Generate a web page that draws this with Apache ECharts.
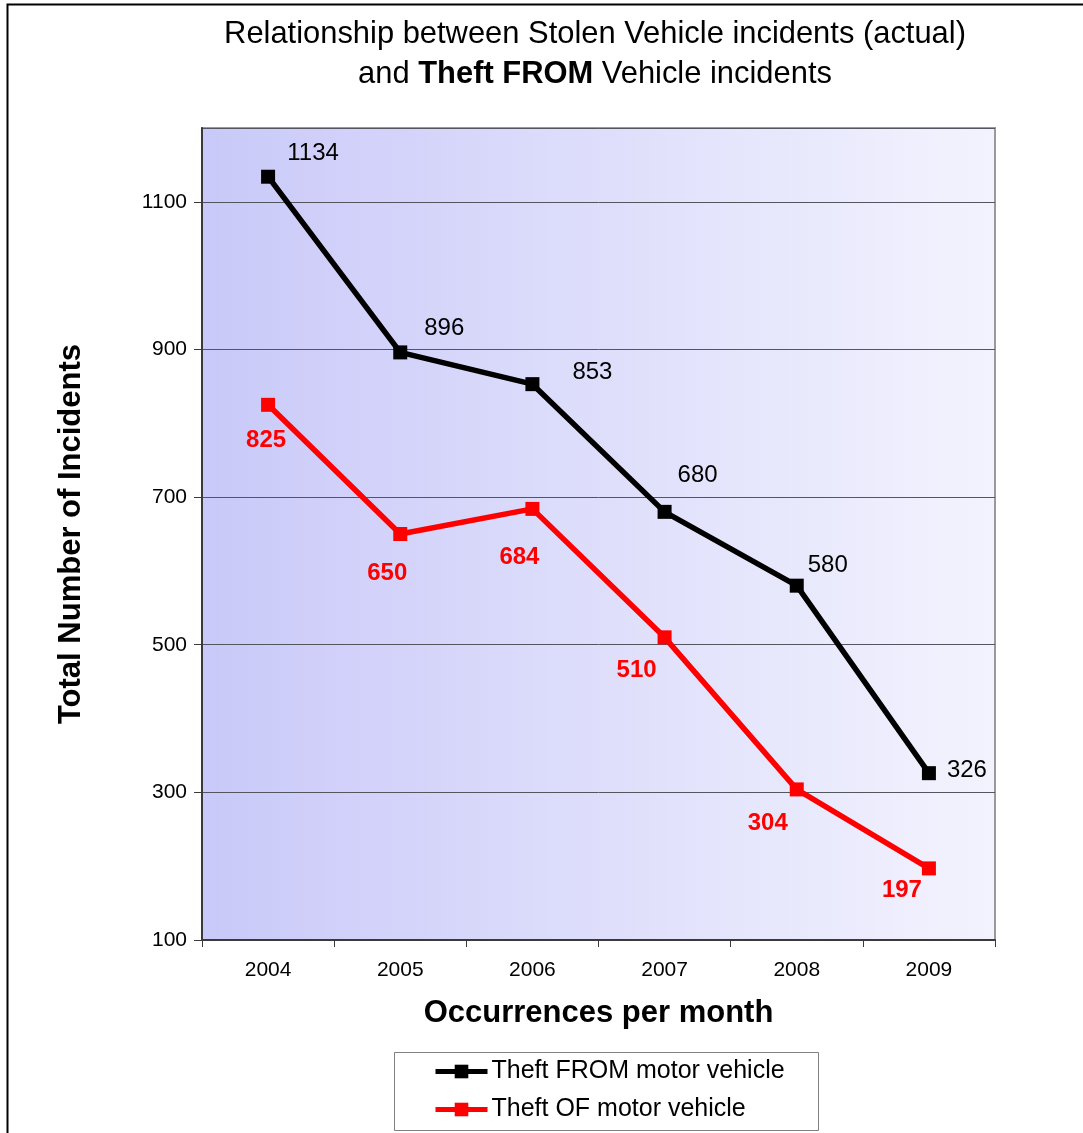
<!DOCTYPE html>
<html>
<head>
<meta charset="utf-8">
<script src="https://cdn.jsdelivr.net/npm/echarts@6/dist/echarts.min.js"></script>
<style>
  html, body { margin: 0; padding: 0; background: #ffffff; }
  #chart { width: 1083px; height: 1133px; }
</style>
</head>
<body>
<div id="chart"></div>
<script>
// Yearly incident counts
const years = ['2004', '2005', '2006', '2007', '2008', '2009'];
const theftFrom = [1134, 896, 853, 680, 580, 326];
const theftOf = [825, 650, 684, 510, 304, 197];

// Where each value label sits relative to its marker (pixels)
const theftFromLabelOffsets = [[45, -23], [44, -24], [60, -12], [33, -36], [31, -20], [38, -3]];
const theftOfLabelOffsets = [[-2, 36], [-13, 39], [-13, 48], [-28, 33], [-29, 34], [-27, 22]];

const FONT = '"Liberation Sans", Arial, sans-serif';

function withLabels(values, offsets) {
  return values.map((v, i) => ({ value: v, label: { offset: offsets[i] } }));
}

const chart = echarts.init(document.getElementById('chart'), null, { renderer: 'canvas' });

chart.setOption({
  backgroundColor: '#ffffff',
  animation: false,
  textStyle: { fontFamily: FONT },
  title: {
    text: 'Relationship between Stolen Vehicle incidents (actual)\nand {b|Theft FROM} Vehicle incidents',
    left: 590,
    top: 9,
    textAlign: 'center',
    textStyle: {
      fontFamily: FONT,
      fontSize: 30.9,
      fontWeight: 'normal',
      color: '#000000',
      lineHeight: 40,
      rich: {
        b: { fontFamily: FONT, fontSize: 30.9, fontWeight: 'bold', color: '#000000', lineHeight: 40 }
      }
    }
  },
  graphic: [
    {
      // outer frame of the chart
      type: 'rect',
      silent: true,
      z: -10,
      shape: { x: 7.5, y: 4.5, width: 1200, height: 1200 },
      style: { fill: 'none', stroke: '#000000', lineWidth: 2 }
    },
    {
      // legend frame
      type: 'rect',
      silent: true,
      z: 0,
      shape: { x: 394.5, y: 1052.5, width: 424, height: 78 },
      style: { fill: '#ffffff', stroke: '#808080', lineWidth: 1 }
    }
  ],
  legend: {
    orient: 'vertical',
    left: 428,
    top: 1054,
    itemGap: 13,
    itemWidth: 52,
    itemHeight: 17,
    z: 5,
    lineStyle: { width: 5 },
    textStyle: { fontFamily: FONT, fontSize: 25, color: '#000000', padding: [0, 0, 0, -1] },
    data: ['Theft FROM motor vehicle', 'Theft OF motor vehicle']
  },
  grid: {
    left: 202,
    top: 128,
    right: 88,
    bottom: 193,
    show: true,
    borderColor: '#9a9a9a',
    borderWidth: 2,
    backgroundColor: new echarts.graphic.LinearGradient(0, 0, 1, 0, [
      { offset: 0, color: '#c9c9f9' },
      { offset: 1, color: '#f3f3fe' }
    ])
  },
  xAxis: {
    type: 'category',
    data: years,
    boundaryGap: true,
    name: 'Occurrences per month',
    nameLocation: 'middle',
    nameGap: 58,
    nameTextStyle: { fontFamily: FONT, fontSize: 31, fontWeight: 'bold', color: '#000000' },
    axisLine: { lineStyle: { color: '#3a3a3a', width: 2 } },
    axisTick: { show: true, inside: false, length: 7, lineStyle: { color: '#3a3a3a', width: 1 } },
    axisLabel: { fontFamily: FONT, fontSize: 21, color: '#000000', margin: 20 },
    splitLine: { show: false }
  },
  yAxis: {
    type: 'value',
    min: 100,
    max: 1200,
    interval: 200,
    name: 'Total Number of Incidents',
    nameLocation: 'middle',
    nameRotate: 90,
    nameGap: 115,
    nameTextStyle: { fontFamily: FONT, fontSize: 31, fontWeight: 'bold', color: '#000000' },
    axisLine: { show: true, lineStyle: { color: '#3a3a3a', width: 2 } },
    axisTick: { show: true, inside: false, length: 8, lineStyle: { color: '#3a3a3a', width: 1 } },
    axisLabel: {
      fontFamily: FONT,
      fontSize: 21,
      color: '#000000',
      margin: 15,
      showMaxLabel: false,
      formatter: (v) => String(v)
    },
    splitLine: { show: true, lineStyle: { color: '#555560', width: 1 } }
  },
  series: [
    {
      name: 'Theft FROM motor vehicle',
      type: 'line',
      data: withLabels(theftFrom, theftFromLabelOffsets),
      symbol: 'rect',
      symbolSize: 14,
      color: '#000000',
      lineStyle: { color: '#000000', width: 5.5 },
      itemStyle: { color: '#000000' },
      label: {
        show: true,
        position: 'inside',
        fontFamily: FONT,
        fontSize: 24,
        color: '#000000'
      },
      z: 4
    },
    {
      name: 'Theft OF motor vehicle',
      type: 'line',
      data: withLabels(theftOf, theftOfLabelOffsets),
      symbol: 'rect',
      symbolSize: 14,
      color: '#ff0000',
      lineStyle: { color: '#ff0000', width: 5.5 },
      itemStyle: { color: '#ff0000' },
      label: {
        show: true,
        position: 'inside',
        fontFamily: FONT,
        fontSize: 24,
        fontWeight: 'bold',
        color: '#ff0000'
      },
      z: 3
    }
  ]
});
</script>
</body>
</html>
